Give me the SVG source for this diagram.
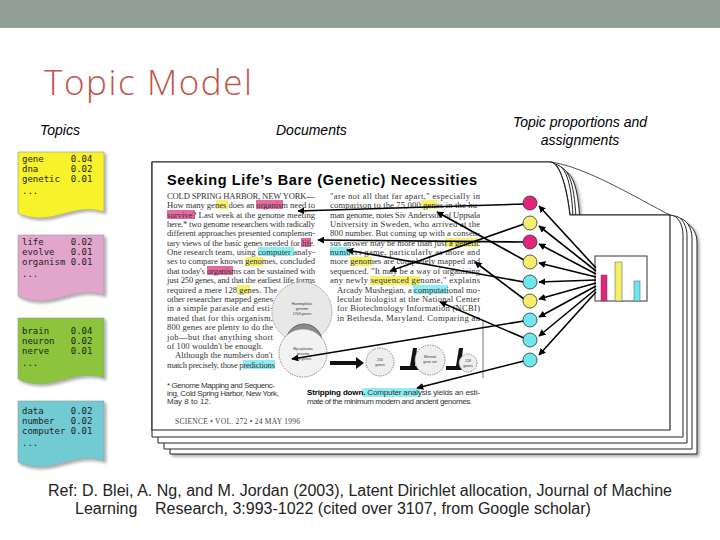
<svg xmlns="http://www.w3.org/2000/svg" width="720" height="540" viewBox="0 0 720 540">
<defs>
<marker id="ah" viewBox="0 0 10 10" refX="9" refY="5" markerWidth="7" markerHeight="7" orient="auto-start-reverse" markerUnits="userSpaceOnUse"><path d="M0,0 L10,5 L0,10 z" fill="#000"/></marker>
<filter id="sh" x="-10%" y="-10%" width="130%" height="130%"><feDropShadow dx="2" dy="2" stdDeviation="1.5" flood-color="#000" flood-opacity="0.35"/></filter>
</defs>
<style>
.lbl{font-family:"Liberation Sans",Arial,sans-serif;font-style:italic;font-size:14px;fill:#000}
.mono{font-family:"DejaVu Sans Mono","Liberation Mono",monospace;font-size:9px;fill:#222;white-space:pre}
.body{font-family:"Liberation Serif","Times New Roman",serif;font-size:8.6px;fill:#333}
.small{font-family:"Liberation Sans",Arial,sans-serif;font-size:8px;fill:#333}
.tiny{font-family:"Liberation Sans",Arial,sans-serif;font-size:3.5px;fill:#333}
.page{fill:#fff;stroke:#222;stroke-width:1}
.arr{stroke:#000;stroke-width:1.6;fill:none;marker-end:url(#ah)}
.hy{fill:#f7f06a}.hp{fill:#e66aa0}.hc{fill:#8ceef2}
</style>
<rect width="720" height="540" fill="#fff"/>
<rect x="0" y="0" width="720" height="28" fill="#929f97"/>
<text x="44" y="95" font-family="'Open Sans',sans-serif" font-weight="300" font-size="35" fill="#c0564a" textLength="208">Topic Model</text>

<text class="lbl" x="40" y="135">Topics</text>
<text class="lbl" x="276" y="135">Documents</text>
<text class="lbl" x="580" y="127" text-anchor="middle">Topic proportions and</text>
<text class="lbl" x="580" y="145" text-anchor="middle">assignments</text>

<g id="topic-gene" xml:space="preserve">
<path d="M18,152 H104 V212 C80,204 60,218 40,218 C30,218 22,215 18,213 Z" fill="#f7f22a" stroke="#999" stroke-width="0.6" filter="url(#sh)"/>
<text class="mono" x="22" y="162">gene     0.04</text><text class="mono" x="22" y="172">dna      0.02</text><text class="mono" x="22" y="182">genetic  0.01</text><text class="mono" x="22" y="194">...</text>
</g>
<g id="topic-life" xml:space="preserve">
<path d="M18,235 H104 V295 C80,287 60,301 40,301 C30,301 22,298 18,296 Z" fill="#e2a6cc" stroke="#999" stroke-width="0.6" filter="url(#sh)"/>
<text class="mono" x="22" y="245">life     0.02</text><text class="mono" x="22" y="255">evolve   0.01</text><text class="mono" x="22" y="265">organism 0.01</text><text class="mono" x="22" y="277">...</text>
</g>
<g id="topic-brain" xml:space="preserve">
<path d="M18,318 H104 V378 C80,370 60,384 40,384 C30,384 22,381 18,379 Z" fill="#8cc43e" stroke="#999" stroke-width="0.6" filter="url(#sh)"/>
<text class="mono" x="22" y="334">brain    0.04</text><text class="mono" x="22" y="344">neuron   0.02</text><text class="mono" x="22" y="354">nerve    0.01</text><text class="mono" x="22" y="366">...</text>
</g>
<g id="topic-data" xml:space="preserve">
<path d="M18,401 H104 V461 C80,453 60,467 40,467 C30,467 22,464 18,462 Z" fill="#72cbd3" stroke="#999" stroke-width="0.6" filter="url(#sh)"/>
<text class="mono" x="22" y="414">data     0.02</text><text class="mono" x="22" y="424">number   0.02</text><text class="mono" x="22" y="434">computer 0.01</text><text class="mono" x="22" y="446">...</text>
</g>

<g id="document">
<path class="page" d="M170,170 H560 C572,170 578,185 580,222 H682 C690,222 697,232 697,242 V454 H170 Z" filter="url(#sh)"/>
<path class="page" d="M164,166 H556 C568,166 574,181 576,218 H678 C686,218 692,228 692,238 V449 H164 Z"/>
<path class="page" d="M158,164 H553 C565,164 571,179 573,216 H674 C682,216 687,226 687,236 V443 H158 Z"/>
<path class="page" d="M152,162 H550 C562,162 568,198 570,215 H670 C678,215 683,225 683,235 V437 H152 Z" stroke-width="1.2"/>
<path d="M152,162 V430 H670 V215 H570 C568,198 562,162 550,162 Z" fill="#fff" stroke="#222" stroke-width="1.2"/>
<path d="M550,162 C585,166 640,200 670,215" fill="none" stroke="#222" stroke-width="0.8"/>
<text x="167" y="185" font-family="'Liberation Sans',Arial,sans-serif" font-weight="bold" font-size="14.5" fill="#000" textLength="310">Seeking Life’s Bare (Genetic) Necessities</text>

<rect class="hy" x="216" y="200" width="12" height="9"/><rect class="hp" x="256" y="200" width="27" height="9"/>
<rect class="hp" x="167" y="210" width="28" height="9"/>
<rect class="hp" x="301" y="238" width="10" height="9"/>
<rect class="hc" x="258" y="247" width="36" height="9"/>
<rect class="hy" x="245" y="257" width="18" height="9"/>
<rect class="hp" x="207" y="266" width="26" height="9"/>
<rect class="hy" x="237" y="285" width="13" height="9"/>
<rect class="hc" x="243" y="360" width="32" height="9"/>
<rect class="hy" x="421" y="200" width="16" height="9"/>
<rect class="hy" x="445" y="238" width="33" height="9"/>
<rect class="hc" x="330" y="247" width="20" height="9"/>
<rect class="hy" x="350" y="257" width="22" height="9"/>
<rect class="hy" x="370" y="276" width="50" height="9"/>
<rect class="hc" x="413" y="285" width="35" height="9"/>
<rect class="hc" x="362" y="388" width="58" height="9"/>

<g class="body">
<text x="167" y="199" textLength="148">COLD SPRING HARBOR, NEW YORK—</text>
<text x="167" y="208" textLength="148">How many genes does an organism need to</text>
<text x="167" y="218" textLength="148">survive? Last week at the genome meeting</text>
<text x="167" y="227" textLength="148">here,* two genome researchers with radically</text>
<text x="167" y="236" textLength="148">different approaches presented complemen-</text>
<text x="167" y="246" textLength="148">tary views of the basic genes needed for life.</text>
<text x="167" y="255" textLength="148">One research team, using computer analy-</text>
<text x="167" y="264" textLength="148">ses to compare known genomes, concluded</text>
<text x="167" y="274" textLength="148">that today's organisms can be sustained with</text>
<text x="167" y="283" textLength="148">just 250 genes, and that the earliest life forms</text>
<text x="167" y="293" textLength="110">required a mere 128 genes. The</text>
<text x="167" y="302" textLength="106">other researcher mapped genes</text>
<text x="167" y="311" textLength="106">in a simple parasite and esti-</text>
<text x="167" y="321" textLength="106">mated that for this organism,</text>
<text x="167" y="330" textLength="106">800 genes are plenty to do the</text>
<text x="167" y="340" textLength="106">job—but that anything short</text>
<text x="167" y="349" textLength="96">of 100 wouldn't be enough.</text>
<text x="175" y="358" textLength="98">Although the numbers don't</text>
<text x="167" y="368" textLength="108">match precisely, those predictions</text>
<text x="330" y="199" textLength="150">"are not all that far apart," especially in</text>
<text x="330" y="208" textLength="150">comparison to the 75,000 genes in the hu-</text>
<text x="330" y="218" textLength="150">man genome, notes Siv Andersson of Uppsala</text>
<text x="330" y="227" textLength="150">University in Sweden, who arrived at the</text>
<text x="330" y="236" textLength="150">800 number. But coming up with a consen-</text>
<text x="330" y="246" textLength="150">sus answer may be more than just a genetic</text>
<text x="330" y="255" textLength="150">numbers game, particularly as more and</text>
<text x="330" y="264" textLength="150">more genomes are completely mapped and</text>
<text x="330" y="274" textLength="150">sequenced. "It may be a way of organizing</text>
<text x="330" y="283" textLength="150">any newly sequenced genome," explains</text>
<text x="337" y="293" textLength="143">Arcady Mushegian, a computational mo-</text>
<text x="337" y="302" textLength="143">lecular biologist at the National Center</text>
<text x="337" y="311" textLength="143">for Biotechnology Information (NCBI)</text>
<text x="337" y="321" textLength="143">in Bethesda, Maryland. Comparing an</text>
</g>
<g class="small">
<text x="167" y="388" textLength="108">* Genome Mapping and Sequenc-</text>
<text x="167" y="396" textLength="112">ing, Cold Spring Harbor, New York,</text>
<text x="167" y="404">May 8 to 12.</text>
<text x="307" y="395" textLength="173"><tspan font-weight="bold" fill="#000">Stripping down.</tspan> Computer analysis yields an esti-</text>
<text x="307" y="404" textLength="165">mate of the minimum modern and ancient genomes.</text>
</g>
<text x="175" y="424" font-family="'Liberation Serif',serif" font-size="7.5" fill="#444" textLength="125">SCIENCE • VOL. 272 • 24 MAY 1996</text>

<g id="figure">
<circle cx="302" cy="312" r="30" fill="#e8e8e8" stroke="#999" stroke-dasharray="1.5 1"/>
<circle cx="304" cy="342" r="18" fill="#8a8a8a" stroke="#666"/>
<circle cx="303" cy="353" r="24" fill="#f2f2f2" stroke="#888" stroke-dasharray="1.5 1"/>
<text class="tiny" x="302" y="305" text-anchor="middle">Haemophilus</text><text class="tiny" x="302" y="310" text-anchor="middle">genome</text><text class="tiny" x="302" y="315" text-anchor="middle">1703 genes</text>
<text class="tiny" x="303" y="350" text-anchor="middle">Mycoplasma</text><text class="tiny" x="303" y="355" text-anchor="middle">genome</text><text class="tiny" x="303" y="360" text-anchor="middle">468 genes</text>
<path d="M330,361 L356,361 L356,357 L364,363 L356,369 L356,365 L330,365 Z" fill="#111"/>
<circle cx="380" cy="362" r="14" fill="#eee" stroke="#888" stroke-dasharray="1.5 1"/>
<text class="tiny" x="380" y="361" text-anchor="middle">256</text><text class="tiny" x="380" y="366" text-anchor="middle">genes</text>
<path d="M400,366 L410,366 L413,348 L417,348 L415,366 L420,366 L420,370 L400,370 Z" fill="#111"/>
<circle cx="430" cy="360" r="15" fill="#eee" stroke="#888" stroke-dasharray="1.5 1"/>
<text class="tiny" x="430" y="358" text-anchor="middle">Minimal</text><text class="tiny" x="430" y="363" text-anchor="middle">gene set</text>
<path d="M446,366 L456,366 L459,348 L463,348 L461,366 L464,366 L464,370 L446,370 Z" fill="#111"/>
<circle cx="468" cy="363" r="9" fill="#eee" stroke="#888" stroke-dasharray="1.5 1"/>
<text class="tiny" x="468" y="362" text-anchor="middle">128</text><text class="tiny" x="468" y="367" text-anchor="middle">genes</text>
<line x1="483" y1="320" x2="483" y2="378" stroke="#bbb" stroke-width="2"/>
</g>

<g id="histogram">
<rect x="595" y="256" width="52" height="45" fill="#fff" stroke="#333" stroke-width="1"/>
<rect x="601" y="275" width="6" height="26" fill="#e0257a" stroke="#555" stroke-width="0.5"/>
<rect x="615" y="262" width="7" height="39" fill="#f5ee6a" stroke="#555" stroke-width="0.5"/>
<rect x="634" y="281" width="6" height="20" fill="#6fe6ee" stroke="#555" stroke-width="0.5"/>
</g>
</g>

<g id="connectors">
<path class="arr" d="M524,204 L298,211"/>
<path class="arr" d="M524,224 L390,271"/>
<path class="arr" d="M524,242 L318,240"/>
<path class="arr" d="M524,260 L437,212"/>
<path class="arr" d="M524,282 L347,250"/>
<path class="arr" d="M524,299 L475,262"/>
<path class="arr" d="M524,321 L292,359"/>
<path class="arr" d="M524,338 L440,302"/>
<path class="arr" d="M524,361 L417,388"/>
<path class="arr" d="M596,268 L539,206"/>
<path class="arr" d="M596,271 L539,226"/>
<path class="arr" d="M596,274 L539,244"/>
<path class="arr" d="M596,277 L539,263"/>
<path class="arr" d="M596,280 L539,282"/>
<path class="arr" d="M596,283 L539,299"/>
<path class="arr" d="M596,286 L539,317"/>
<path class="arr" d="M596,289 L539,336"/>
<path class="arr" d="M596,292 L539,355"/>
</g>

<g id="circles" stroke="#333" stroke-width="0.8">
<circle cx="530" cy="203" r="7" fill="#e0257a"/>
<circle cx="530" cy="223" r="7" fill="#f5ee6a"/>
<circle cx="530" cy="242" r="7" fill="#e0257a"/>
<circle cx="530" cy="262" r="7" fill="#f5ee6a"/>
<circle cx="530" cy="282" r="7" fill="#6fe6ee"/>
<circle cx="530" cy="301" r="7" fill="#f5ee6a"/>
<circle cx="530" cy="320" r="7" fill="#6fe6ee"/>
<circle cx="530" cy="340" r="7" fill="#6fe6ee"/>
<circle cx="530" cy="360" r="7" fill="#6fe6ee"/>
</g>

<text x="48" y="496" font-family="'Liberation Sans',Arial,sans-serif" font-size="16" fill="#222" textLength="624">Ref: D. Blei, A. Ng, and M. Jordan (2003), Latent Dirichlet allocation, Journal of Machine</text>
<text x="75" y="514" font-family="'Liberation Sans',Arial,sans-serif" font-size="16" fill="#222" xml:space="preserve">Learning    Research, 3:993-1022 (cited over 3107, from Google scholar)</text>
</svg>
